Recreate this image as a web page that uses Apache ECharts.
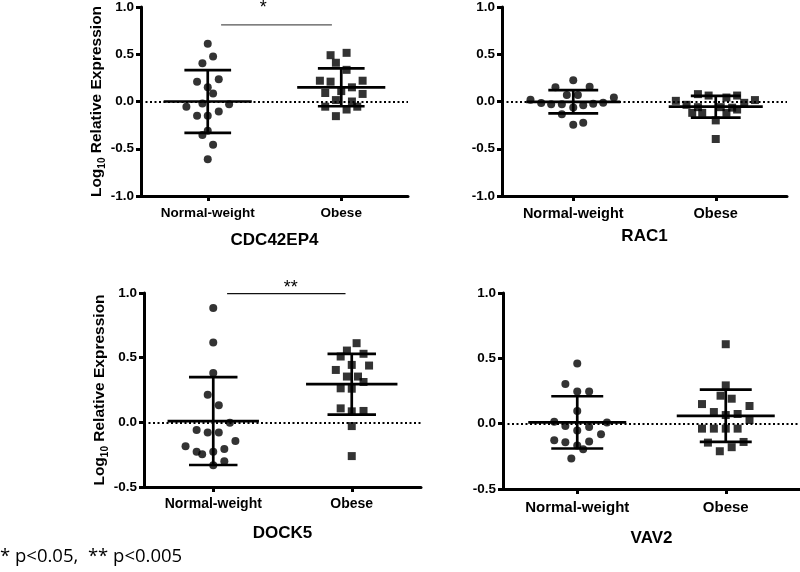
<!DOCTYPE html>
<html><head><meta charset="utf-8">
<script src="https://cdn.jsdelivr.net/npm/echarts@6/dist/echarts.min.js"></script>
<style>html,body{margin:0;padding:0;background:#fff}#c{width:800px;height:572px}</style>
</head><body><div id="c"></div>
<script>
// ---- data ----
const categories = ['Normal-weight', 'Obese'];
const panelTitles = ['CDC42EP4', 'RAC1', 'DOCK5', 'VAV2'];
const footnote = '* p<0.05,  ** p<0.005';

// CDC42EP4
const cdcNormal   = [0.61,0.475,0.405,0.21,0.235,0.15,0.085,-0.055,-0.02,-0.03,-0.105,-0.15,-0.15,-0.31,-0.355,-0.457,-0.61];
const cdcNormalDx = [0,0.08,-0.08,-0.16,0.165,0,0.08,-0.32,-0.08,0.32,0.165,-0.16,0,0,-0.08,0.08,0];
const cdcObese    = [0.49,0.515,0.41,0.335,0.22,0.21,0.22,0.09,0.11,0.15,0.08,0.015,0,-0.055,-0.055,-0.085,-0.155];
const cdcObeseDx  = [-0.16,0.08,-0.08,0.08,-0.32,-0.16,0.32,-0.24,0,0.16,0.32,-0.08,0.16,-0.24,0.24,0.08,-0.08];
const cdcMean = [0.0, 0.15];
const cdcSD   = [0.333, 0.2];
const cdcSig  = {x1: 1.2, x2: 2.86, y: 0.81, tx: 1.83, ty: 0.99, text: '*'};

// RAC1
const racNormal   = [0.225,0.15,0.155,0.07,0.07,0.018,-0.017,-0.03,-0.03,-0.04,-0.025,-0.012,0.043,-0.135,-0.063,-0.245,-0.225];
const racNormalDx = [0,-0.25,0.23,-0.09,0.065,-0.6,-0.45,-0.31,-0.16,0.14,0.28,0.42,0.57,-0.16,0,0,0.14];
const racObese    = [0.007,-0.035,0.078,0.063,0.042,0.063,0.015,-0.014,-0.12,-0.12,-0.2,-0.12,-0.397,-0.06,-0.06,-0.065,-0.085];
const racObeseDx  = [-0.56,-0.41,-0.25,-0.1,0.15,0.3,0.55,0.4,-0.33,-0.19,0,0.15,0,-0.25,0.07,0.23,0.3];
const racMean = [-0.003, -0.055];
const racSD   = [0.123, 0.115];

// DOCK5
const dockNormal   = [0.884,0.617,0.382,0.214,0.132,-0.003,-0.06,-0.078,-0.078,-0.145,-0.184,-0.228,-0.246,-0.228,-0.207,-0.3,-0.331];
const dockNormalDx = [0,0,0,-0.08,0.08,0.24,-0.24,-0.08,0.08,0.32,-0.4,-0.24,-0.16,0,0.16,0.16,0];
const dockObese    = [0.612,0.555,0.509,0.53,0.444,0.439,0.405,0.354,0.354,0.312,0.263,0.26,0.108,0.085,0.088,-0.029,-0.261];
const dockObeseDx  = [0.07,-0.07,-0.16,0.17,0,0.25,-0.23,-0.07,0.09,0.17,-0.16,0,-0.16,0,0.17,0,0];
const dockMean = [0.01, 0.295];
const dockSD   = [0.34, 0.235];
const dockSig  = {x1: 1.2, x2: 2.91, y: 0.995, tx: 2.12, ty: 1.04, text: '**'};

// VAV2
const vavNormal   = [0.46,0.303,0.247,0.247,0.097,0.015,0.008,-0.018,-0.053,-0.025,-0.081,-0.127,-0.142,-0.137,-0.168,-0.196,-0.267];
const vavNormalDx = [0,-0.16,0,0.16,0,-0.31,0.4,-0.16,0,0.16,0.32,-0.31,-0.16,0.16,0,0.08,-0.08];
const vavObese    = [0.608,0.293,0.214,0.191,0.15,0.135,0.089,0.066,0.074,0.028,-0.038,-0.038,-0.038,-0.038,-0.145,-0.14,-0.211,-0.18];
const vavObeseDx  = [0,0,-0.07,0.08,-0.32,0.32,-0.16,0,0.16,0.32,-0.32,-0.16,0,0.16,-0.24,0.24,-0.08,0.08];
const vavMean = [0.01, 0.06];
const vavSD   = [0.2, 0.2];

const yTop    = {min: -1, max: 1, interval: 0.5};
const yBottom = {min: -0.5, max: 1, interval: 0.5};
const catPos = [1, 3];

// ---- build ----
const FONT = 'Liberation Sans';
const panels = [
  {n: cdcNormal, ndx: cdcNormalDx, o: cdcObese, odx: cdcObeseDx, mean: cdcMean, sd: cdcSD, sig: cdcSig, sigColor: '#555', y: yTop,
   grid: {left: 141, top: 6, width: 267, height: 190}, yName: true, lab: 13.5, tick: 13.5, labM: 10, nameGap: 36},
  {n: racNormal, ndx: racNormalDx, o: racObese, odx: racObeseDx, mean: racMean, sd: racSD, sig: null, y: yTop,
   grid: {left: 502, top: 6, width: 285, height: 190}, yName: false, lab: 14.5, tick: 13.5, labM: 10, nameGap: 32},
  {n: dockNormal, ndx: dockNormalDx, o: dockObese, odx: dockObeseDx, mean: dockMean, sd: dockSD, sig: dockSig, sigColor: '#111', y: yBottom,
   grid: {left: 144, top: 293, width: 277, height: 194}, yName: true, lab: 14, tick: 13.5, labM: 10, nameGap: 38},
  {n: vavNormal, ndx: vavNormalDx, o: vavObese, odx: vavObeseDx, mean: vavMean, sd: vavSD, sig: null, y: yBottom,
   grid: {left: 503, top: 293, width: 297, height: 196}, yName: false, lab: 15, tick: 13.5, labM: 11, nameGap: 41}
];

function meanSdItem(params, api) {
  const x = api.value(0), m = api.value(1), s = api.value(2);
  const c = api.coord([x, m]);
  const hi = api.coord([x, m + s])[1];
  const lo = api.coord([x, m - s])[1];
  const l = api.coord([x - 0.66, m])[0], r = api.coord([x + 0.66, m])[0];
  const sl = api.coord([x - 0.35, m])[0], sr = api.coord([x + 0.35, m])[0];
  const st = {stroke: '#000', lineWidth: 2.7};
  return {type: 'group', children: [
    {type: 'line', shape: {x1: l, y1: c[1], x2: r, y2: c[1]}, style: st},
    {type: 'line', shape: {x1: c[0], y1: hi, x2: c[0], y2: lo}, style: st},
    {type: 'line', shape: {x1: sl, y1: hi, x2: sr, y2: hi}, style: st},
    {type: 'line', shape: {x1: sl, y1: lo, x2: sr, y2: lo}, style: st}
  ]};
}
function makeSig(s, color) {
  return function (params, api) {
    const a = api.coord([api.value(0), api.value(2)]);
    const b = api.coord([api.value(1), api.value(2)]);
    const t = api.coord([api.value(3), api.value(4)]);
    return {type: 'group', children: [
      {type: 'line', shape: {x1: a[0], y1: a[1], x2: b[0], y2: b[1]}, style: {stroke: color, lineWidth: 1.3}},
      {type: 'text', x: t[0], y: t[1], style: {text: s.text, fill: '#000', font: '18px ' + FONT, align: 'center', verticalAlign: 'middle'}}
    ]};
  };
}

const option = {
  animation: false,
  backgroundColor: '#fff',
  title: {text: footnote, left: 0, top: 547, padding: 0,
    textStyle: {fontSize: 18.5, fontWeight: 'normal', fontFamily: 'Open Sans', color: '#000'}},
  grid: [], xAxis: [], yAxis: [], series: []
};

panels.forEach((p, i) => {
  option.grid.push(Object.assign({containLabel: false}, p.grid));
  option.xAxis.push({
    gridIndex: i, type: 'value', min: 0, max: 4,
    name: panelTitles[i], nameLocation: 'middle', nameGap: p.nameGap,
    nameTextStyle: {fontFamily: FONT, fontWeight: 'bold', fontSize: 17, color: '#000'},
    axisLine: {show: true, onZero: false, lineStyle: {color: '#000', width: 3}},
    axisTick: {show: true, customValues: catPos, length: 5, lineStyle: {color: '#000', width: 3}},
    axisLabel: {customValues: catPos, margin: p.labM, formatter: v => categories[catPos.indexOf(v)] || '',
      fontFamily: FONT, fontWeight: 'bold', fontSize: p.lab, color: '#000'},
    splitLine: {show: false}
  });
  option.yAxis.push({
    gridIndex: i, type: 'value', min: p.y.min, max: p.y.max, interval: p.y.interval,
    name: p.yName ? '{a|Log}{b|10}{a| Relative Expression}' : '',
    nameLocation: 'middle', nameGap: 27, nameRotate: 90,
    nameTextStyle: {rich: {
      a: {fontFamily: FONT, fontWeight: 'bold', fontSize: 15.5, color: '#000', lineHeight: 20},
      b: {fontFamily: FONT, fontWeight: 'bold', fontSize: 10, color: '#000', lineHeight: 10, verticalAlign: 'bottom'}
    }},
    axisLine: {show: true, onZero: false, lineStyle: {color: '#000', width: 3}},
    axisTick: {show: true, length: 5, lineStyle: {color: '#000', width: 3}},
    axisLabel: {margin: 7, formatter: v => v.toFixed(1), fontFamily: FONT, fontWeight: 'bold', fontSize: p.tick, color: '#000'},
    splitLine: {show: false}
  });
  option.series.push({
    type: 'scatter', xAxisIndex: i, yAxisIndex: i, symbol: 'circle', symbolSize: 8,
    itemStyle: {color: '#000'}, z: 3,
    data: p.n.map((v, k) => [catPos[0] + p.ndx[k], v]),
    markLine: {silent: true, symbol: 'none', label: {show: false},
      lineStyle: {color: '#000', width: 2, type: [2, 2.5]}, data: [{yAxis: 0}], z: 1}
  });
  option.series.push({
    type: 'scatter', xAxisIndex: i, yAxisIndex: i, symbol: 'rect', symbolSize: 8,
    itemStyle: {color: '#000'}, z: 3,
    data: p.o.map((v, k) => [catPos[1] + p.odx[k], v])
  });
  option.series.push({
    type: 'custom', xAxisIndex: i, yAxisIndex: i, renderItem: meanSdItem, z: 4, silent: true,
    data: [[catPos[0], p.mean[0], p.sd[0]], [catPos[1], p.mean[1], p.sd[1]]]
  });
  if (p.sig) {
    const s = p.sig;
    option.series.push({
      type: 'custom', xAxisIndex: i, yAxisIndex: i, clip: false, silent: true, z: 5,
      renderItem: makeSig(s, p.sigColor),
      data: [[s.x1, s.x2, s.y, s.tx, s.ty]]
    });
  }
});

const chart = echarts.init(document.getElementById('c'), null, {renderer: 'canvas'});
chart.setOption(option);
</script></body></html>
